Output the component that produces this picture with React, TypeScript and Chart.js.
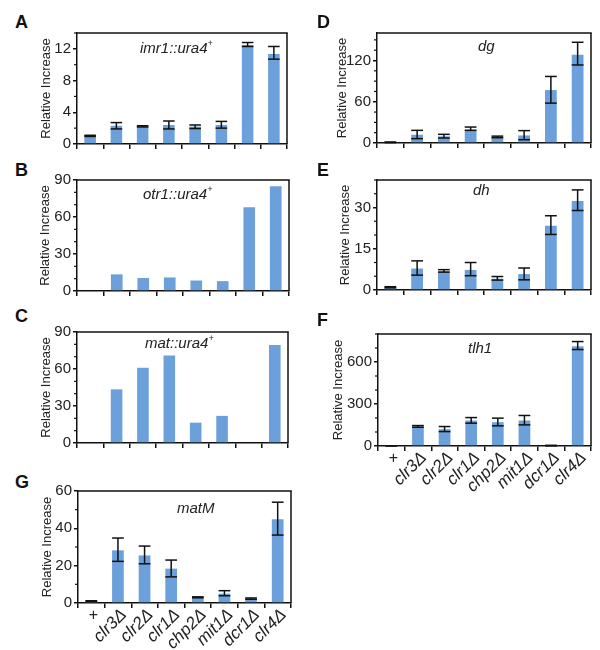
import React, { useEffect, useRef } from 'react';
import { Chart, registerables } from 'chart.js';
Chart.register(...registerables);

// ---------- DATA ----------
const categories = ['+', 'clr3Δ', 'clr2Δ', 'clr1Δ', 'chp2Δ', 'mit1Δ', 'dcr1Δ', 'clr4Δ'];

const imr1Values = [1.0, 2.3, 2.25, 2.4, 2.2, 2.4, 12.5, 11.35];
const imr1Low = [0.95, 1.9, 2.15, 1.9, 1.95, 2.0, 12.3, 10.7];
const imr1High = [1.1, 2.7, 2.3, 2.9, 2.4, 2.85, 12.8, 12.3];

const otr1Values = [0, 13.5, 10.5, 11, 8.5, 8, 68, 85];

const matValues = [0, 43.5, 61, 71, 16.5, 22, 0, 79.5];

const dgValues = [1, 12, 9.7, 19.4, 8.7, 11, 77, 128.5];
const dgLow = [0.5, 6.3, 7.3, 18.4, 7.7, 4.8, 58, 113.5];
const dgHigh = [1.5, 18.4, 12.6, 23.2, 10, 18, 96.8, 146.5];

const dhValues = [1, 7.8, 6.8, 7.3, 4.1, 5.8, 23.4, 32.4];
const dhLow = [0.8, 5.4, 6.5, 5.2, 3.6, 3.7, 20.2, 28.9];
const dhHigh = [1.2, 10.6, 7.4, 10, 4.9, 8, 27, 36.4];

const tlh1Values = [1, 139, 120, 182, 170, 182, 3, 713];
const tlh1Low = [1, 134, 103, 163, 144, 151, 1, 689];
const tlh1High = [1, 146, 139, 203, 199, 218, 5, 746];

const matMValues = [1, 28.2, 25.5, 18.4, 3, 5, 2.3, 44.8];
const matMLow = [0.8, 22.3, 21, 14, 2.8, 3.9, 2.0, 36.4];
const matMHigh = [1.2, 34.8, 30.5, 23, 3.3, 6.6, 2.7, 54];

// axis ranges: [max, major step, minor step]
const imr1Axis = [14, 4, 2];
const otr1Axis = [90, 30, 10];
const matAxis = [90, 30, 10];
const dgAxis = [160, 60, 15];
const dhAxis = [40, 15, 5];
const tlh1Axis = [800, 300, 100];
const matMAxis = [60, 20, 10];

// ---------- STYLE / LAYOUT ----------
const BAR = '#6ca0da';
const INK = '#111';
const TXT = '#222';
const FONT = "'Liberation Sans', Arial, Helvetica, sans-serif";

type Panel = {
  letter: string;
  title: React.ReactNode;
  values: number[];
  low?: number[];
  high?: number[];
  axis: number[];
  plot: { l: number; t: number; r: number; b: number };
  gap: number; // distance of y title centre from plot left
  showX: boolean;
  letterPos: [number, number];
  titlePos: [number, number];
};

const sup = (s: string) => <sup style={{ fontSize: 9, verticalAlign: 'top', position: 'relative', top: -1 }}>{s}</sup>;

const panels: Panel[] = [
  { letter: 'A', title: <>imr1::ura4{sup('+')}</>, values: imr1Values, low: imr1Low, high: imr1High, axis: imr1Axis,
    plot: { l: 77, t: 33, r: 287, b: 145 }, gap: 30, showX: false, letterPos: [15, 13], titlePos: [140, 40] },
  { letter: 'B', title: <>otr1::ura4{sup('+')}</>, values: otr1Values, axis: otr1Axis,
    plot: { l: 77, t: 180, r: 289, b: 292 }, gap: 31, showX: false, letterPos: [15, 161], titlePos: [143, 186] },
  { letter: 'C', title: <>mat::ura4{sup('+')}</>, values: matValues, axis: matAxis,
    plot: { l: 77, t: 332, r: 288, b: 444 }, gap: 30, showX: false, letterPos: [15, 307], titlePos: [145, 335] },
  { letter: 'D', title: <>dg</>, values: dgValues, low: dgLow, high: dgHigh, axis: dgAxis,
    plot: { l: 377, t: 33, r: 591, b: 144 }, gap: 34, showX: false, letterPos: [317, 13], titlePos: [478, 38] },
  { letter: 'E', title: <>dh</>, values: dhValues, low: dhLow, high: dhHigh, axis: dhAxis,
    plot: { l: 377, t: 180, r: 591, b: 291 }, gap: 31, showX: false, letterPos: [317, 161], titlePos: [473, 182] },
  { letter: 'F', title: <>tlh1</>, values: tlh1Values, low: tlh1Low, high: tlh1High, axis: tlh1Axis,
    plot: { l: 378, t: 334, r: 591, b: 446 }, gap: 39, showX: true, letterPos: [317, 311], titlePos: [468, 340] },
  { letter: 'G', title: <>matM</>, values: matMValues, low: matMLow, high: matMHigh, axis: matMAxis,
    plot: { l: 78, t: 491, r: 291, b: 603 }, gap: 30, showX: true, letterPos: [15, 473], titlePos: [177, 500] },
];

function PanelChart({ p }: { p: Panel }) {
  const ref = useRef<HTMLCanvasElement>(null);
  const TOP = 12;
  const RIGHT = 8;
  const LEFT = Math.round(p.gap + 8);
  const BOTTOM = p.showX ? 46 : 10;
  const w = p.plot.r - p.plot.l + LEFT + RIGHT;
  const h = p.plot.b - p.plot.t + TOP + BOTTOM;

  useEffect(() => {
    const [max, step, minor] = p.axis;
    const deco = {
      id: 'deco' + p.letter,
      afterDatasetsDraw(chart: any) {
        const ctx = chart.ctx as CanvasRenderingContext2D;
        const { left, top, right, bottom } = chart.chartArea;
        const ys = chart.scales.y;
        const xs = chart.scales.x;
        const line = (x1: number, y1: number, x2: number, y2: number) => {
          ctx.beginPath(); ctx.moveTo(x1, y1); ctx.lineTo(x2, y2); ctx.stroke();
        };
        ctx.save();
        ctx.strokeStyle = INK;
        // minor ticks
        ctx.lineWidth = 1.2;
        for (let v = minor; v <= max + 1e-9; v += minor) {
          const r = v / step;
          if (Math.abs(r - Math.round(r)) < 1e-6) continue;
          const py = ys.getPixelForValue(v);
          line(left - 3, py, left, py);
        }
        // box top and right
        ctx.lineWidth = 1.5;
        line(left - 0.75, top, right + 0.75, top);
        line(right, top, right, bottom);
        // error bars
        if (p.low && p.high) {
          const meta = chart.getDatasetMeta(0);
          ctx.lineWidth = 1.5;
          meta.data.forEach((bar: any, i: number) => {
            const x = bar.x;
            const hw = bar.width / 2;
            const yl = ys.getPixelForValue(p.low![i]);
            const yh = ys.getPixelForValue(p.high![i]);
            line(x, yl, x, yh);
            line(x - hw, yl, x + hw, yl);
            line(x - hw, yh, x + hw, yh);
          });
        }
        // upright "+" label (wild type)
        if (p.showX) {
          const labels = chart.data.labels as string[];
          labels.forEach((lab, i) => {
            if (lab !== '+') return;
            ctx.fillStyle = TXT;
            ctx.font = `16px ${FONT}`;
            ctx.textAlign = 'center';
            ctx.textBaseline = 'middle';
            ctx.fillText(lab, xs.getPixelForTick(i) + 2, bottom + 13);
          });
        }
        ctx.restore();
      },
    };
    const chart = new Chart(ref.current as HTMLCanvasElement, {
      type: 'bar',
      data: {
        labels: categories,
        datasets: [{ data: p.values, backgroundColor: BAR, barPercentage: 0.44, categoryPercentage: 1 }],
      },
      options: {
        animation: false,
        responsive: false,
        devicePixelRatio: 1,
        layout: { padding: { top: TOP, right: RIGHT, left: 0, bottom: 0 } },
        plugins: { legend: { display: false }, tooltip: { enabled: false } },
        scales: {
          x: {
            offset: true,
            grid: { offset: true, drawOnChartArea: false, drawTicks: true, tickLength: 5, color: INK, lineWidth: 1.5 },
            border: { color: INK, width: 1.5 },
            ticks: {
              display: p.showX, autoSkip: false, minRotation: 45, maxRotation: 45, padding: -3, labelOffset: 6, color: TXT,
              font: { family: FONT, size: 17, style: 'italic' },
              callback: (_v: any, i: number) => (categories[i] === '+' ? '' : categories[i]),
            },
            afterFit: (s: any) => { s.height = BOTTOM; },
          },
          y: {
            min: 0,
            max,
            grid: { drawOnChartArea: false, drawTicks: true, tickLength: 4, color: INK, lineWidth: 1.5 },
            border: { color: INK, width: 1.5 },
            ticks: { stepSize: step, includeBounds: false, padding: 2, color: TXT, font: { family: FONT, size: 15 } },
            title: { display: true, text: 'Relative Increase', color: TXT, font: { family: FONT, size: 13 }, padding: 0 },
            afterFit: (s: any) => { s.width = LEFT; },
          },
        },
      } as any,
      plugins: [deco],
    });
    return () => chart.destroy();
  }, []);

  return (
    <canvas
      ref={ref}
      width={w}
      height={h}
      style={{ position: 'absolute', left: p.plot.l - LEFT, top: p.plot.t - TOP, width: w, height: h }}
    />
  );
}

export default function App() {
  return (
    <div style={{ position: 'absolute', left: 0, top: 0, width: 600, height: 650, background: '#fff', overflow: 'hidden', fontFamily: FONT }}>
      {panels.map((p) => (
        <React.Fragment key={p.letter}>
          <PanelChart p={p} />
          <div style={{ position: 'absolute', left: p.letterPos[0], top: p.letterPos[1], fontSize: 18, fontWeight: 'bold', lineHeight: 1, color: INK }}>
            {p.letter}
          </div>
          <div style={{ position: 'absolute', left: p.titlePos[0], top: p.titlePos[1], fontSize: 15, fontStyle: 'italic', lineHeight: 1, color: TXT, whiteSpace: 'nowrap' }}>
            {p.title}
          </div>
        </React.Fragment>
      ))}
    </div>
  );
}
